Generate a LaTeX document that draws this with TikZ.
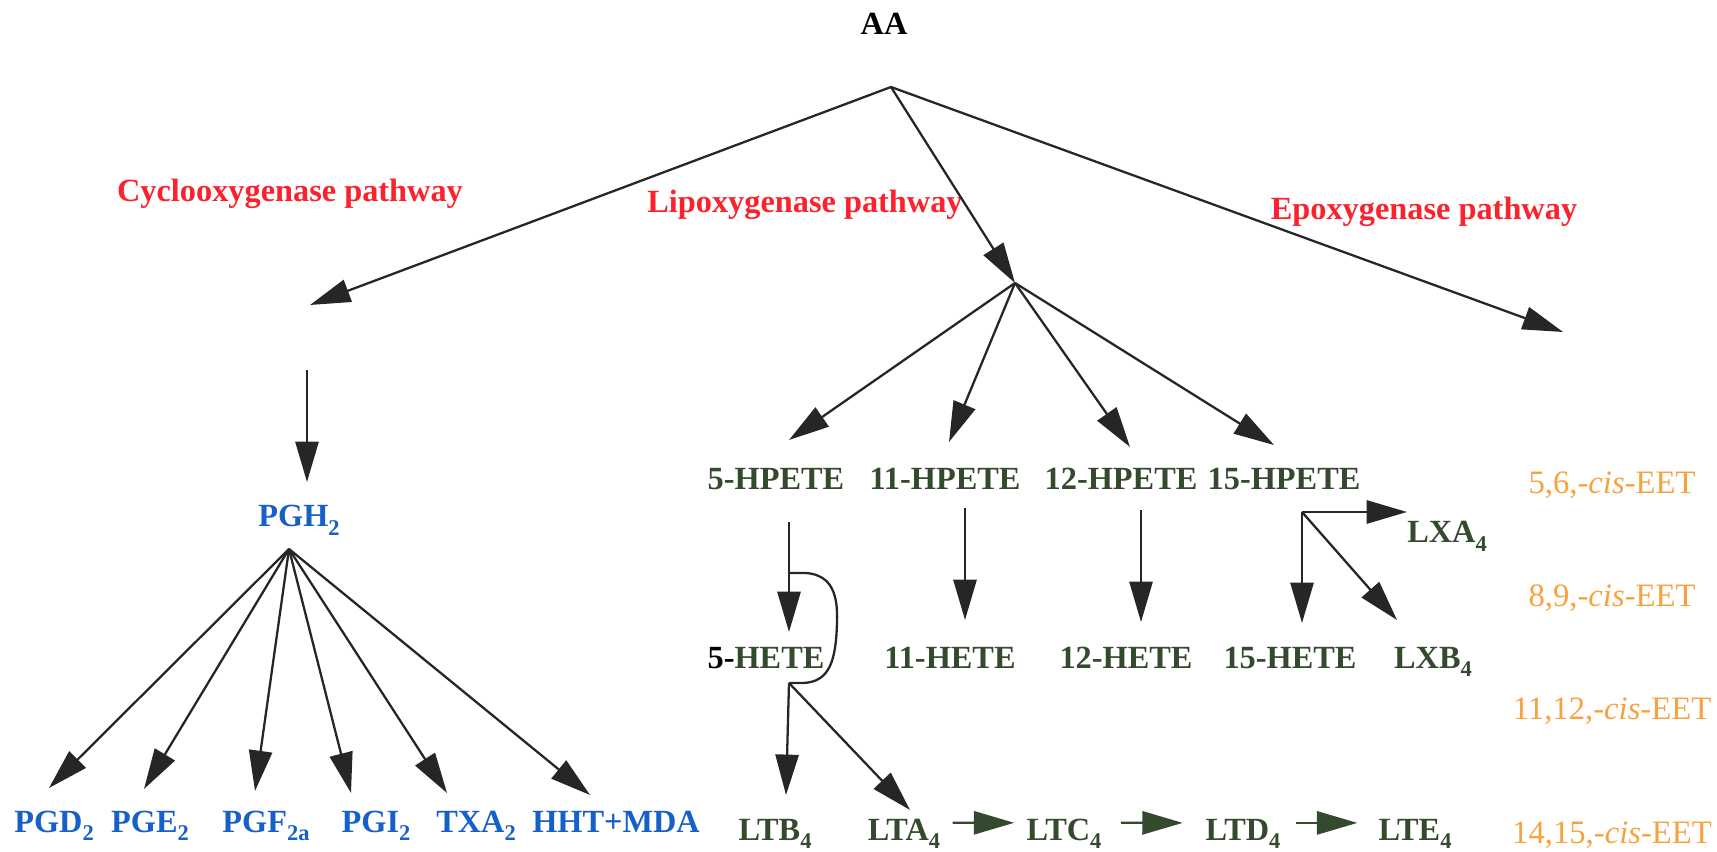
\documentclass[tikz,border=0pt]{standalone}
\usepackage{fontspec}
\setmainfont{Liberation Serif}
\usetikzlibrary{arrows.meta}
\definecolor{pathred}{RGB}{250,35,45}
\definecolor{pgblue}{RGB}{22,96,200}
\definecolor{ltgreen}{RGB}{52,74,46}
\definecolor{eetorange}{RGB}{246,162,62}
\definecolor{arrowgray}{RGB}{38,38,38}
\newcommand{\lowsub}[1]{\raisebox{-2.3pt}{\fontsize{6.4}{7}\selectfont #1}}

\begin{document}
\begin{tikzpicture}[x=0.1mm,y=-0.1mm,
    lbl/.style={anchor=base,font=\bfseries\fontsize{9.2}{11}\selectfont},
    pathlbl/.style={lbl,text=pathred},
    pglbl/.style={lbl,text=pgblue},
    ltlbl/.style={lbl,text=ltgreen},
    eetlbl/.style={anchor=base,text=eetorange,font=\fontsize{9.3}{11}\selectfont},
    arr/.style={draw=arrowgray,line width=0.65pt,-{Triangle[length=11.5pt,width=6.6pt]}},
    ltarr/.style={arr,draw=ltgreen}]
    \useasboundingbox (0,0) rectangle (1717,852);

    % AA and the three pathways
    \node[lbl] (aa) at (884,35) {AA};
    \node[pathlbl] (coxlbl) at (290,202) {Cyclooxygenase pathway};
    \node[pathlbl] (loxlbl) at (805,213) {Lipoxygenase pathway};
    \node[pathlbl] (epoxlbl) at (1424,220) {Epoxygenase pathway};
    \coordinate (aafork) at (891,87);
    \coordinate (coxend) at (310,305);
    \coordinate (loxfork) at (1015,283);
    \coordinate (epoxend) at (1563,332);
    \draw[arr] (aafork)--(coxend);
    \draw[arr] (aafork)--(loxfork);
    \draw[arr] (aafork)--(epoxend);

    % cyclooxygenase
    \node[pglbl] (pgh2) at (299,527) {PGH\lowsub{2}};
    \coordinate (coxin) at (307,370);
    \coordinate (pgh2in) at (307,482);
    \draw[arr] (coxin)--(pgh2in);
    \node[pglbl] (pgd2) at (54,832) {PGD\lowsub{2}};
    \node[pglbl] (pge2) at (150,832) {PGE\lowsub{2}};
    \node[pglbl] (pgf2a) at (266,832) {PGF\lowsub{2a}};
    \node[pglbl] (pgi2) at (376,832) {PGI\lowsub{2}};
    \node[pglbl] (txa2) at (476,832) {TXA\lowsub{2}};
    \node[pglbl] (hht) at (616,832) {HHT+MDA};
    \coordinate (pgfork) at (289,549);
    \coordinate (pgd2in) at (49,788);
    \coordinate (pge2in) at (144,789);
    \coordinate (pgf2ain) at (255,791);
    \coordinate (pgi2in) at (351,793);
    \coordinate (txa2in) at (447,793);
    \coordinate (hhtin) at (590,795);
    \draw[arr] (pgfork)--(pgd2in);
    \draw[arr] (pgfork)--(pge2in);
    \draw[arr] (pgfork)--(pgf2ain);
    \draw[arr] (pgfork)--(pgi2in);
    \draw[arr] (pgfork)--(txa2in);
    \draw[arr] (pgfork)--(hhtin);

    % lipoxygenase
    \node[ltlbl] (hpete5) at (776,490) {5-HPETE};
    \node[ltlbl] (hpete11) at (945,490) {11-HPETE};
    \node[ltlbl] (hpete12) at (1121,490) {12-HPETE};
    \node[ltlbl] (hpete15) at (1284,490) {15-HPETE};
    \coordinate (hpete5in) at (789,440);
    \coordinate (hpete11in) at (949,442);
    \coordinate (hpete12in) at (1130,447);
    \coordinate (hpete15in) at (1274,445);
    \draw[arr] (loxfork)--(hpete5in);
    \draw[arr] (loxfork)--(hpete11in);
    \draw[arr] (loxfork)--(hpete12in);
    \draw[arr] (loxfork)--(hpete15in);

    \node[ltlbl] (hete5) at (766,668) {\textcolor{black}{5-}HETE};
    \node[ltlbl] (hete11) at (950,668) {11-HETE};
    \node[ltlbl] (hete12) at (1126,668) {12-HETE};
    \node[ltlbl] (hete15) at (1290,668) {15-HETE};
    \node[ltlbl] (lxa4) at (1447,543) {LXA\lowsub{4}};
    \node[ltlbl] (lxb4) at (1433,668) {LXB\lowsub{4}};

    \coordinate (hpete5out) at (789,522);
    \coordinate (hete5in) at (789,632);
    \draw[arr] (hpete5out)--(hete5in);
    \coordinate (hpete11out) at (965,508);
    \coordinate (hete11in) at (965,620);
    \draw[arr] (hpete11out)--(hete11in);
    \coordinate (hpete12out) at (1141,510);
    \coordinate (hete12in) at (1141,622);
    \draw[arr] (hpete12out)--(hete12in);
    \coordinate (hpete15out) at (1302,512);
    \coordinate (hete15in) at (1302,623);
    \coordinate (lxa4in) at (1407,512);
    \coordinate (lxb4in) at (1397,620);
    \draw[arr] (hpete15out)--(hete15in);
    \draw[arr] (hpete15out)--(lxa4in);
    \draw[arr] (hpete15out)--(lxb4in);

    % bypass round 5-HETE
    \coordinate (looptop) at (789,573);
    \coordinate (ltfork) at (789,683);
    \draw[arrowgray,line width=0.65pt] (looptop)--(806,573)
        .. controls (832,575) and (838,595) .. (837,622)
        .. controls (836,660) and (830,682) .. (803,683)--(ltfork);

    \node[ltlbl] (ltb4) at (775,840) {LTB\lowsub{4}};
    \node[ltlbl] (lta4) at (904,840) {LTA\lowsub{4}};
    \node[ltlbl] (ltc4) at (1064,840) {LTC\lowsub{4}};
    \node[ltlbl] (ltd4) at (1243,840) {LTD\lowsub{4}};
    \node[ltlbl] (lte4) at (1415,840) {LTE\lowsub{4}};
    \coordinate (ltb4in) at (786,795);
    \coordinate (lta4in) at (910,810);
    \draw[arr] (ltfork)--(ltb4in);
    \draw[arr] (ltfork)--(lta4in);
    \draw[ltarr] ([yshift=3pt]lta4.east)--([yshift=3pt]ltc4.west);
    \draw[ltarr,shorten <=2pt,shorten >=3pt] ([yshift=3pt]ltc4.east)--([yshift=3pt]ltd4.west);
    \draw[ltarr,shorten <=1pt,shorten >=2.5pt] ([yshift=3pt]ltd4.east)--([yshift=3pt]lte4.west);

    % epoxygenase
    \node[eetlbl] (eet56) at (1612,494) {5,6,-\textit{cis}-EET};
    \node[eetlbl] (eet89) at (1612,607) {8,9,-\textit{cis}-EET};
    \node[eetlbl] (eet1112) at (1612,720) {11,12,-\textit{cis}-EET};
    \node[eetlbl] (eet1415) at (1612,843) {14,15,-\textit{cis}-EET};
\end{tikzpicture}
\end{document}
